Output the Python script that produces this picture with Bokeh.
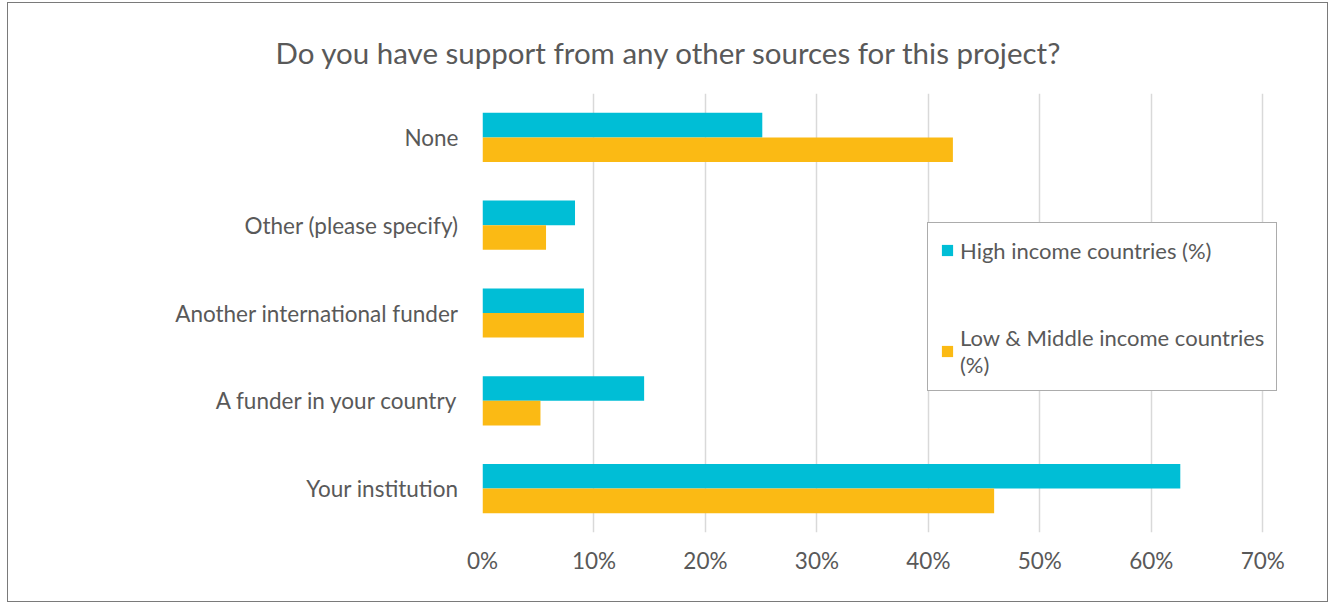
from bokeh.plotting import figure
from bokeh.models import FactorRange, Legend, LegendItem, ColumnDataSource
from bokeh.transform import dodge
from bokeh.embed import file_html
from bokeh.resources import INLINE

title_text = "Do you have support from any other sources for this project?"
categories = ["None", "Other (please specify)", "Another international funder",
              "A funder in your country", "Your institution"]
high_income = [25.1, 8.3, 9.1, 14.5, 62.6]
low_middle_income = [42.2, 5.7, 9.1, 5.2, 45.9]
series_names = ["High income countries (%)", "Low & Middle income countries\n(%)"]
x_ticks = [0, 10, 20, 30, 40, 50, 60, 70]
x_tick_labels = ["0%", "10%", "20%", "30%", "40%", "50%", "60%", "70%"]

CYAN = "#00BED6"
AMBER = "#FBBA14"
TXT = "#595959"
FONT = "Lato"

src = ColumnDataSource(dict(cat=categories, hic=high_income, lmic=low_middle_income))

# frame extends a little past 70% so the legend (which overhangs the last gridline) is not clipped
p = figure(width=1321, height=600, x_range=(0, 71.5),
           y_range=FactorRange(factors=list(reversed(categories))),
           output_backend="svg", toolbar_location=None,
           min_border_left=474, min_border_right=50, min_border_top=90, min_border_bottom=71)
p.styles = {"margin-left": "7px", "margin-top": "2px", "border": "1px solid #7a7a7a"}

p.title.text = title_text
p.title.align = "left"
p.title.offset = -207
p.title.vertical_align = "middle"
p.title.standoff = 45
p.title.text_font = FONT
p.title.text_font_size = "29.5px"
p.title.text_font_style = "normal"
p.title.text_color = TXT

r1 = p.hbar(y=dodge("cat", 0.14, range=p.y_range), right="hic", left=0, height=0.28,
            source=src, fill_color=CYAN, line_color=None)
r2 = p.hbar(y=dodge("cat", -0.14, range=p.y_range), right="lmic", left=0, height=0.28,
            source=src, fill_color=AMBER, line_color=None)

p.outline_line_color = None
p.ygrid.grid_line_color = None
p.xgrid.grid_line_color = "#d9d9d9"
p.xgrid.grid_line_width = 1.5
p.xgrid.ticker = x_ticks

p.xaxis.ticker = x_ticks
p.xaxis.major_label_overrides = {t: l for t, l in zip(x_ticks, x_tick_labels)}
for ax in (p.xaxis, p.yaxis):
    ax.axis_line_color = None
    ax.major_tick_line_color = None
    ax.minor_tick_line_color = None
    ax.major_tick_out = 0
    ax.major_tick_in = 0
    ax.minor_tick_out = 0
    ax.major_label_text_font = FONT
    ax.major_label_text_font_size = "22.5px"
    ax.major_label_text_color = TXT
p.xaxis.major_label_standoff = 14
p.yaxis.major_label_standoff = 24

legend = Legend(items=[LegendItem(label=series_names[0], renderers=[r1]),
                       LegendItem(label=series_names[1], renderers=[r2])],
                location=(445, 141))
legend.border_line_color = "#595959"
legend.border_line_width = 1.5
legend.background_fill_color = "white"
legend.background_fill_alpha = 1
legend.label_text_font = FONT
legend.label_text_font_size = "22px"
legend.label_text_color = TXT
legend.label_height = 30
legend.glyph_height = 14
legend.glyph_width = 14
legend.label_standoff = 6
legend.spacing = 59
legend.padding = 12
legend.margin = 0
p.add_layout(legend)

open("out.html", "w").write(file_html(p, INLINE))
